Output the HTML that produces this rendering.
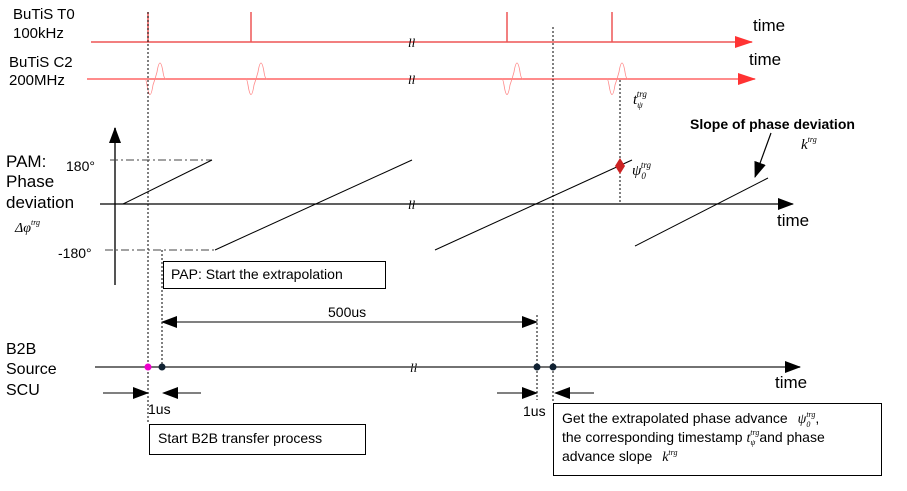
<!DOCTYPE html>
<html><head><meta charset="utf-8"><style>
body{margin:0;background:#fff;}
svg{display:block;font-family:"Liberation Sans",sans-serif;}
</style></head><body>
<svg width="907" height="491" viewBox="0 0 907 491">
<defs>
<marker id="arR" markerWidth="18" markerHeight="12" refX="17" refY="6" orient="auto" markerUnits="userSpaceOnUse"><path d="M0,0 L18,6 L0,12z" fill="#f33"/></marker>
<marker id="arB" markerWidth="16" markerHeight="12" refX="15" refY="6" orient="auto-start-reverse" markerUnits="userSpaceOnUse"><path d="M0,0 L16,6 L0,12z" fill="#000"/></marker>
</defs>
<g font-size="15" fill="#000">
<text x="13" y="19">BuTiS T0</text>
<text x="13" y="38">100kHz</text>
<text x="9" y="67">BuTiS C2</text>
<text x="9" y="85">200MHz</text>
<text x="6" y="167" font-size="17">PAM:</text>
<text x="6" y="187" font-size="17">Phase</text>
<text x="6" y="208" font-size="17">deviation</text>
<text x="15" y="232" font-size="14" font-style="italic" font-family="Liberation Serif,serif">Δφ<tspan font-size="8" dy="-7">trg</tspan></text>
<text x="66" y="171" font-size="14">180°</text>
<text x="58" y="258" font-size="14">-180°</text>
<text x="6" y="354" font-size="16">B2B</text>
<text x="6" y="374" font-size="16">Source</text>
<text x="6" y="395" font-size="16">SCU</text>
<text x="753" y="31" font-size="17">time</text>
<text x="749" y="65" font-size="17">time</text>
<text x="777" y="226" font-size="17">time</text>
<text x="775" y="388" font-size="17">time</text>
</g>
<line x1="91" y1="42" x2="752" y2="42" stroke="#e55" stroke-width="1.5" marker-end="url(#arR)"/>
<g id="spikes" stroke="#e55" stroke-width="1.5"></g>
<line x1="87" y1="79" x2="755" y2="79" stroke="#f66" stroke-width="1.5" marker-end="url(#arR)"/>
<g id="waves" fill="none" stroke="#f88" stroke-width="0.8"></g>
<g stroke="#000" stroke-width="1" stroke-dasharray="2,2" fill="none">
<line x1="148" y1="12" x2="148" y2="424"/>
<line x1="162" y1="250" x2="162" y2="367"/>
<line x1="537" y1="315" x2="537" y2="400"/>
<line x1="553" y1="27" x2="553" y2="403"/>
<line x1="620" y1="80" x2="620" y2="204"/>
</g>
<line x1="115" y1="285" x2="115" y2="128" stroke="#555" stroke-width="2" marker-end="url(#arB)"/>
<line x1="100" y1="204" x2="793" y2="204" stroke="#000" stroke-width="1.2" marker-end="url(#arB)"/>
<line x1="110" y1="160" x2="212" y2="160" stroke="#444" stroke-dasharray="8,3,2,3"/>
<line x1="105" y1="250" x2="215" y2="250" stroke="#444" stroke-dasharray="8,3,2,3"/>
<g id="ramps" stroke="#000" stroke-width="1"></g>
<path d="M620,158 L625,166 L620,174 L615,166z" fill="#c22"/>
<text x="632" y="175" font-size="15" font-style="italic" font-family="Liberation Serif,serif">ψ<tspan font-size="9" dy="4">0</tspan><tspan font-size="9" dx="-5" dy="-11">trg</tspan></text>
<text x="633" y="104" font-size="15" font-style="italic" font-family="Liberation Serif,serif">t<tspan font-size="9" dy="4">ψ</tspan><tspan font-size="9" dx="-6" dy="-11">trg</tspan></text>
<text x="690" y="129" font-size="14" font-weight="bold">Slope of phase deviation</text>
<text x="801" y="149" font-size="15" font-style="italic" font-family="Liberation Serif,serif">k<tspan font-size="8" dy="-7">trg</tspan></text>
<line x1="771" y1="133" x2="755" y2="177" stroke="#000" stroke-width="1.2" marker-end="url(#arB)"/>
<g font-size="13" font-style="italic" fill="#000" font-family="Liberation Serif,serif">
<text x="408" y="47">ll</text>
<text x="408" y="84">ll</text>
<text x="408" y="209">ll</text>
<text x="410" y="372">ll</text>
</g>
<line x1="95" y1="367" x2="800" y2="367" stroke="#444" stroke-width="1.5" marker-end="url(#arB)"/>
<g id="dots"></g>
<line x1="162" y1="322" x2="537" y2="322" stroke="#000" marker-start="url(#arB)" marker-end="url(#arB)"/>
<text x="328" y="317" font-size="14">500us</text>
<g stroke="#000">
<line x1="103" y1="393" x2="148" y2="393" marker-end="url(#arB)"/>
<line x1="201" y1="393" x2="163" y2="393" marker-end="url(#arB)"/>
<line x1="497" y1="393" x2="537" y2="393" marker-end="url(#arB)"/>
<line x1="594" y1="393" x2="555" y2="393" marker-end="url(#arB)"/>
</g>
<text x="148" y="414" font-size="14">1us</text>
<text x="523" y="416" font-size="14">1us</text>
<g fill="#fff" stroke="#000" stroke-width="1">
<rect x="163.5" y="261.5" width="222" height="27"/>
<rect x="149.5" y="424.5" width="216" height="30"/>
<rect x="553.5" y="403.5" width="328" height="72"/>
</g>
<text x="171" y="279" font-size="14">PAP: Start the extrapolation</text>
<text x="158" y="443" font-size="14">Start B2B transfer process</text>
<g font-size="14">
<text x="562" y="423">Get the extrapolated phase advance <tspan font-style="italic" font-family="Liberation Serif,serif" dx="6">ψ<tspan font-size="8" dy="4">0</tspan><tspan font-size="8" dx="-4" dy="-10">trg</tspan></tspan><tspan dy="6">,</tspan></text>
<text x="562" y="442">the corresponding timestamp <tspan font-style="italic" font-family="Liberation Serif,serif">t<tspan font-size="8" dy="3">ψ</tspan><tspan font-size="8" dx="-5" dy="-10">trg</tspan></tspan><tspan dy="7">and phase</tspan></text>
<text x="562" y="461">advance slope <tspan font-style="italic" font-family="Liberation Serif,serif" dx="6">k<tspan font-size="8" dy="-6">trg</tspan></tspan></text>
</g>
</svg>
<script>
const t0Spikes=[148,251,507,612];
const c2Waves=[145,246,502,607];
const rampStarts=[[123,204],[215,250],[435,250],[635,246]];
const rampEnds=[[212,160],[412,160],[632,160],[768,178]];
const scuEvents=[148,162,537,553];
const scuColors=['#e0c','#123','#123','#123'];
const NS='http://www.w3.org/2000/svg';
const sp=document.getElementById('spikes');
t0Spikes.forEach(x=>{const l=document.createElementNS(NS,'line');
l.setAttribute('x1',x);l.setAttribute('x2',x);l.setAttribute('y1',12);l.setAttribute('y2',42);


sp.appendChild(l);});
const wv=document.getElementById('waves');
c2Waves.forEach(x=>{const p=document.createElementNS(NS,'path');
p.setAttribute('d',`M${x},79 Q${x+1},79 ${x+2},85 Q${x+5},104 ${x+8},85 L${x+10},79 L${x+12},72 Q${x+15},54 ${x+18},72 Q${x+19},79 ${x+21},79`);


wv.appendChild(p);});
const rp=document.getElementById('ramps');
rampStarts.forEach((s,i)=>{const l=document.createElementNS(NS,'line');
l.setAttribute('x1',s[0]);l.setAttribute('y1',s[1]);l.setAttribute('x2',rampEnds[i][0]);l.setAttribute('y2',rampEnds[i][1]);


rp.appendChild(l);});
const dt=document.getElementById('dots');
scuEvents.forEach((x,i)=>{const c=document.createElementNS(NS,'circle');
c.setAttribute('cx',x);c.setAttribute('cy',367);c.setAttribute('r',3.5);c.setAttribute('fill',scuColors[i]);


dt.appendChild(c);});
</script>
</body></html>
